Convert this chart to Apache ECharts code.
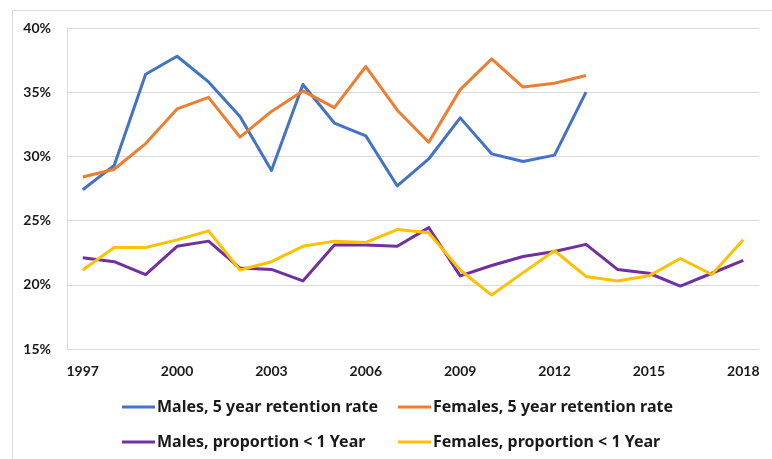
<!DOCTYPE html>
<html>
<head>
<meta charset="utf-8">
<script src="https://cdn.jsdelivr.net/npm/echarts@6/dist/echarts.min.js"></script>
<style>
  html, body { margin: 0; padding: 0; background: #fff; }
  #chart { width: 772px; height: 459px; }
</style>
</head>
<body>
<div id="chart"></div>
<script>
// Years on the horizontal axis
const years = ['1997','1998','1999','2000','2001','2002','2003','2004','2005','2006','2007',
               '2008','2009','2010','2011','2012','2013','2014','2015','2016','2017','2018'];

// Values in percent
const malesRetention5 = [27.4, 29.3, 36.4, 37.8, 35.8, 33.1, 28.9, 35.6, 32.6, 31.6, 27.7,
                         29.8, 33.0, 30.2, 29.6, 30.1, 35.0];
const femalesRetention5 = [28.4, 29.0, 31.0, 33.7, 34.6, 31.5, 33.5, 35.1, 33.8, 37.0, 33.6,
                           31.1, 35.2, 37.6, 35.4, 35.7, 36.3];
const malesUnder1 = [22.1, 21.8, 20.8, 23.0, 23.4, 21.3, 21.2, 20.3, 23.1, 23.1, 23.0,
                     24.45, 20.7, 21.5, 22.2, 22.6, 23.15, 21.2, 20.9, 19.9, 20.9, 21.9];
const femalesUnder1 = [21.15, 22.9, 22.9, 23.5, 24.2, 21.15, 21.8, 23.0, 23.4, 23.3, 24.3,
                       24.05, 21.15, 19.2, 20.95, 22.65, 20.65, 20.3, 20.7, 22.05, 20.8, 23.5];

const seriesNames = ['Males, 5 year retention rate', 'Females, 5 year retention rate',
                     'Males, proportion < 1 Year', 'Females, proportion < 1 Year'];
const seriesColors = ['#4472C4', '#ED7D31', '#7030A0', '#FFC000'];
const seriesData = [malesRetention5, femalesRetention5, malesUnder1, femalesUnder1];

const FONT = 'Lato, "Open Sans", sans-serif';
const LEGEND_FONT = '"Noto Sans", Lato, sans-serif';

// One legend block per entry so the two columns line up
const legendPos = [
  { left: 122, top: 399 }, { left: 398, top: 399 },
  { left: 122, top: 434 }, { left: 398, top: 434 }
];

const chart = echarts.init(document.getElementById('chart'), null, { renderer: 'canvas' });
chart.setOption({
  animation: false,
  backgroundColor: '#fff',
  graphic: [{
    type: 'rect',
    shape: { x: 12.5, y: 10.5, width: 800, height: 500 },
    style: { fill: 'none', stroke: '#d9d9d9', lineWidth: 1 },
    silent: true, z: -1
  }],
  grid: { left: 67, right: 13, top: 28, bottom: 110, containLabel: false },
  legend: legendPos.map((p, i) => ({
    left: p.left, top: p.top,
    padding: 0,
    data: [seriesNames[i]],
    icon: 'rect', itemWidth: 33, itemHeight: 3, itemGap: 0,
    textStyle: { fontFamily: LEGEND_FONT, fontSize: 16, fontWeight: 'bold', color: '#1a1a1a', padding: [0, 0, 0, -3] }
  })),
  xAxis: {
    type: 'category',
    data: years,
    boundaryGap: true,
    axisLine: { show: true, lineStyle: { color: '#d9d9d9', width: 1 } },
    axisTick: { show: false },
    axisLabel: {
      interval: 2, margin: 15,
      fontFamily: FONT, fontSize: 14, fontWeight: 'bold', color: '#1a1a1a'
    },
    splitLine: { show: false }
  },
  yAxis: {
    type: 'value',
    min: 15, max: 40, interval: 5,
    axisLine: { show: true, lineStyle: { color: '#d9d9d9', width: 1 } },
    axisTick: { show: false },
    axisLabel: {
      formatter: '{value}%', margin: 16,
      fontFamily: FONT, fontSize: 14, fontWeight: 'bold', color: '#1a1a1a'
    },
    splitLine: { show: true, lineStyle: { color: '#d9d9d9', width: 1 } }
  },
  series: seriesData.map((d, i) => ({
    name: seriesNames[i],
    type: 'line',
    data: d,
    symbol: 'none',
    color: seriesColors[i],
    lineStyle: { width: 3, color: seriesColors[i], join: 'round' },
    itemStyle: { color: seriesColors[i] }
  }))
});
</script>
</body>
</html>
